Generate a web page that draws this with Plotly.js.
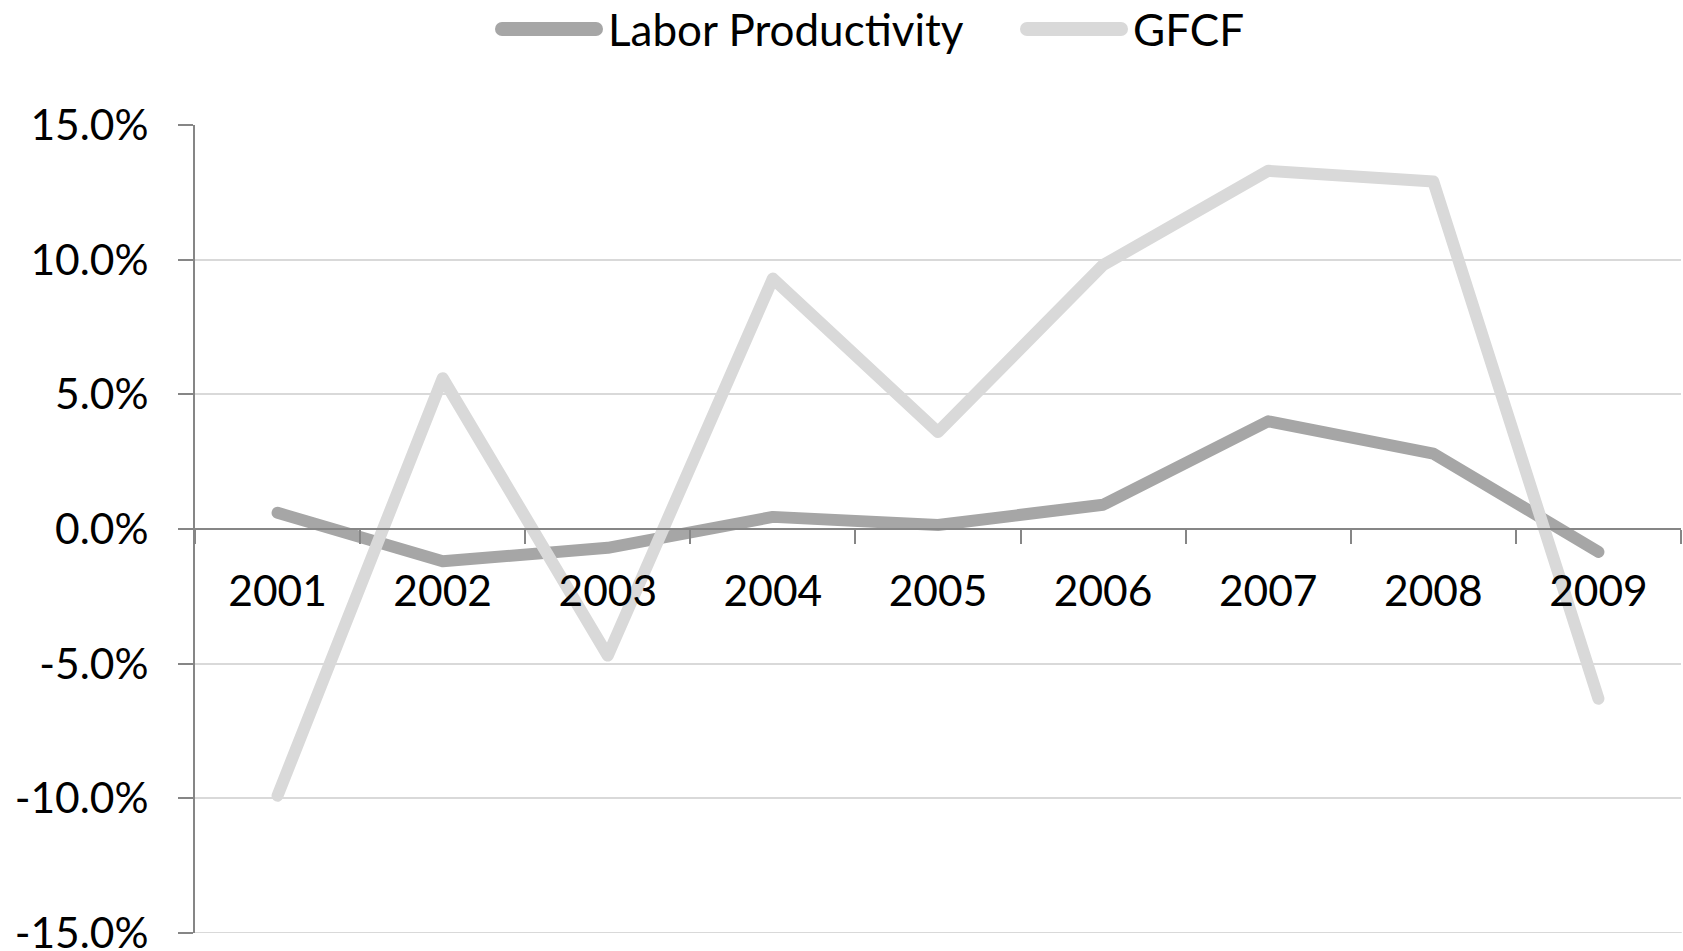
<!DOCTYPE html>
<html>
<head>
<meta charset="utf-8">
<script src="https://cdn.plot.ly/plotly-3.0.1.min.js"></script>
<style>
  html, body { margin: 0; padding: 0; background: #ffffff; }
  #chart { width: 1683px; height: 951px; }
  .scatterlayer .js-line { stroke-linejoin: round; stroke-linecap: round; }
  .shapelayer path { stroke-linecap: round; }
</style>
</head>
<body>
<div id="chart"></div>
<script>
// Annual growth rates, in percent
const years = ['2001', '2002', '2003', '2004', '2005', '2006', '2007', '2008', '2009'];
const laborProductivity = [0.6, -1.2, -0.7, 0.45, 0.15, 0.9, 4.0, 2.8, -0.85];
const gfcf = [-9.9, 5.6, -4.7, 9.3, 3.6, 9.8, 13.3, 12.9, -6.3];

const seriesNames = ['Labor Productivity', 'GFCF'];
const seriesColors = ['#a6a6a6', '#d9d9d9'];

const yTickVals = [-15, -10, -5, 0, 5, 10, 15];
const yTickText = ['-15.0%', '-10.0%', '-5.0%', '0.0%', '5.0%', '10.0%', '15.0%'];

// Page geometry
const W = 1683, H = 951;
const M = { l: 195, r: 2, t: 125, b: 18 };
const plotW = W - M.l - M.r;
const plotH = H - M.t - M.b;
const fx = px => (px - M.l) / plotW;          // pixel x -> paper x
const fy = py => 1 + (M.t - py) / plotH;     // pixel y -> paper y

const FONT = 'Lato, "Open Sans", sans-serif';
const TICK_SIZE = 42.5;
const LEGEND_SIZE = 44;
const axisColor = '#868686';
const gridColor = '#d9d9d9';

const traces = [laborProductivity, gfcf].map((vals, i) => ({
  type: 'scatter',
  mode: 'lines',
  x: years,
  y: vals,
  name: seriesNames[i],
  line: { color: seriesColors[i], width: 12 },
  hoverinfo: 'x+y+name',
  cliponaxis: false
}));

// Legend drawn above the plot: a line swatch followed by the series name
const legendY = fy(29);
const legendItems = [
  { x0: 502, x1: 596, tx: 606 },
  { x0: 1027, x1: 1121, tx: 1131 }
];
const shapes = legendItems.map((it, i) => ({
  type: 'line', xref: 'paper', yref: 'paper',
  x0: fx(it.x0), x1: fx(it.x1), y0: legendY, y1: legendY,
  line: { color: seriesColors[i], width: 14 }
}));
// bottom gridline at -15%
shapes.push({
  type: 'line', xref: 'paper', yref: 'y',
  x0: 0, x1: 1, y0: yTickVals[0], y1: yTickVals[0],
  line: { color: gridColor, width: 2 }, layer: 'below'
});
const annotations = legendItems.map((it, i) => ({
  xref: 'paper', yref: 'paper', x: fx(it.tx), y: fy(29),
  xanchor: 'left', yanchor: 'middle', showarrow: false,
  text: seriesNames[i],
  font: { family: FONT, size: LEGEND_SIZE, color: '#000000' }
}));

const layout = {
  width: W, height: H,
  margin: M,
  paper_bgcolor: '#ffffff',
  plot_bgcolor: '#ffffff',
  showlegend: false,
  font: { family: FONT, size: TICK_SIZE, color: '#000000' },
  xaxis: {
    type: 'category',
    anchor: 'free',
    position: 0.5,
    range: [-0.5, years.length - 0.5],
    showline: true, linecolor: axisColor, linewidth: 2,
    showgrid: false, zeroline: false,
    ticks: 'outside', tickson: 'boundaries', ticklen: 14, tickwidth: 2, tickcolor: axisColor,
    ticklabelstandoff: 25,
    tickfont: { family: FONT, size: TICK_SIZE, color: '#000000' },
    fixedrange: true
  },
  yaxis: {
    range: [-15, 15],
    tickvals: yTickVals, ticktext: yTickText,
    showline: true, linecolor: axisColor, linewidth: 2,
    showgrid: true, gridcolor: gridColor, gridwidth: 2,
    zeroline: false,
    ticks: 'outside', ticklen: 15, tickwidth: 2, tickcolor: axisColor,
    ticklabelstandoff: 21,
    ticklabeloverflow: 'allow',
    tickfont: { family: FONT, size: TICK_SIZE, color: '#000000' },
    fixedrange: true
  },
  shapes: shapes,
  annotations: annotations
};

Plotly.newPlot('chart', traces, layout, { displayModeBar: false, staticPlot: true });
</script>
</body>
</html>
